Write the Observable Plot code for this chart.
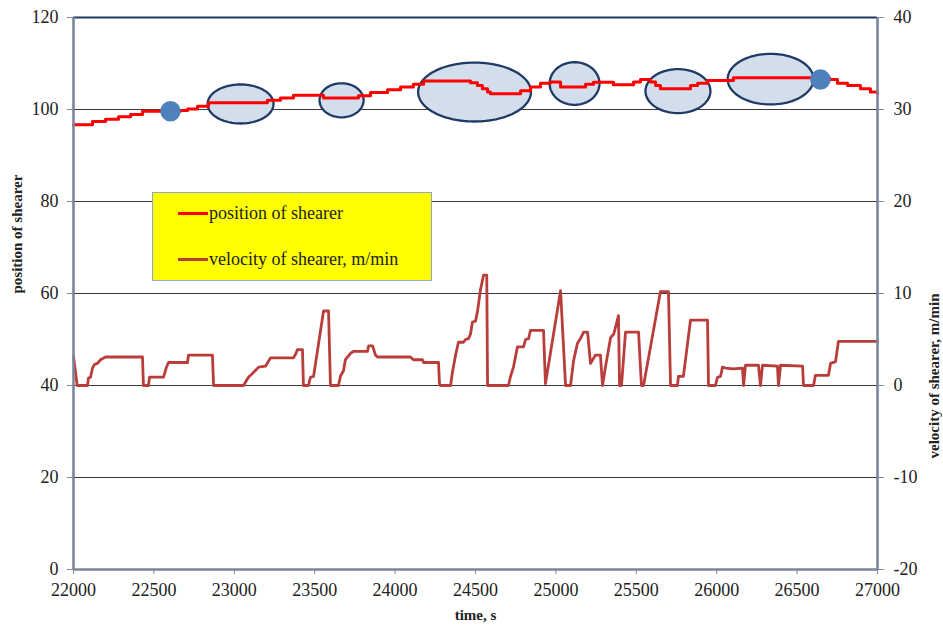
<!DOCTYPE html>
<html>
<head>
<meta charset="utf-8">
<script src="https://cdn.jsdelivr.net/npm/d3@7"></script>
<script src="https://cdn.jsdelivr.net/npm/@observablehq/plot@0.6"></script>
<style>
  body { margin: 0; background: #fff; }
  #wrap { position: relative; width: 943px; height: 628px; }
  #wrap svg text { font-family: "Liberation Serif", "Times New Roman", Tinos, "DejaVu Serif", serif; }
  #legend {
    position: absolute; left: 152px; top: 192px; width: 278px; height: 87px;
    background: #ffff00; border: 1px solid #8ea9d6;
    font-family: "Liberation Serif", "Times New Roman", Tinos, "DejaVu Serif", serif;
    font-size: 18px; color: #222;
  }
  .item { position: absolute; left: 25px; display: flex; align-items: center; }
  .swatch { width: 30px; height: 3px; margin-right: 1px; }
</style>
</head>
<body>
<div id="wrap"></div>
<script>
// time, s
const timeTicks = [22000, 22500, 23000, 23500, 24000, 24500, 25000, 25500, 26000, 26500, 27000];
const leftTicks = [0, 20, 40, 60, 80, 100, 120];
const rightTicks = [-20, -10, 0, 10, 20, 30, 40];

// position of shearer (step start time, value)
const posTime = [22000, 22118, 22199, 22280, 22355, 22429, 22665, 22709, 22771, 22840, 23206, 23287, 23368, 23555, 23772, 23847, 23953, 24034, 24114, 24177, 24469, 24512, 24543, 24575, 24593, 24780, 24842, 24904, 24966, 25029, 25184, 25234, 25358, 25483, 25526, 25588, 25620, 25650, 25837, 25881, 25943, 26104, 26700, 26751, 26814, 26894, 26956, 27000];
const posValue = [96.7, 97.4, 97.9, 98.4, 98.9, 99.6, 99.8, 100.1, 100.7, 101.45, 102.0, 102.5, 103.1, 102.5, 103.0, 103.7, 104.3, 104.9, 105.5, 106.2, 105.8, 105.2, 104.5, 103.8, 103.4, 104.1, 104.9, 105.7, 106.0, 104.9, 105.5, 105.9, 105.4, 106.0, 106.5, 106.0, 105.2, 104.5, 105.2, 105.7, 106.3, 106.9, 106.5, 105.7, 105.2, 104.5, 103.8, 103.4];

// velocity of shearer, m/min
const velTime = [22000, 22023, 22087, 22093, 22106, 22118, 22131, 22149, 22168, 22199, 22429, 22435, 22466, 22473, 22560, 22578, 22591, 22709, 22715, 22864, 22871, 23057, 23088, 23113, 23151, 23194, 23225, 23368, 23381, 23393, 23424, 23430, 23461, 23474, 23493, 23555, 23586, 23598, 23648, 23660, 23679, 23691, 23723, 23741, 23828, 23835, 23860, 23878, 23891, 24096, 24114, 24170, 24177, 24270, 24276, 24282, 24345, 24357, 24376, 24394, 24425, 24438, 24456, 24469, 24481, 24500, 24512, 24531, 24550, 24570, 24575, 24705, 24718, 24736, 24761, 24799, 24811, 24830, 24842, 24923, 24935, 25029, 25060, 25091, 25110, 25134, 25153, 25172, 25197, 25215, 25246, 25277, 25290, 25308, 25340, 25360, 25389, 25396, 25408, 25433, 25514, 25532, 25545, 25650, 25700, 25713, 25756, 25762, 25793, 25837, 25943, 25949, 25992, 26005, 26024, 26036, 26055, 26104, 26160, 26167, 26179, 26260, 26272, 26285, 26378, 26384, 26397, 26534, 26540, 26602, 26614, 26695, 26708, 26739, 26757, 27000];
const velValue = [3.15, 0, 0, 0.8, 0.9, 1.9, 2.3, 2.4, 2.8, 3.1, 3.1, 0, 0, 0.9, 0.9, 2.0, 2.5, 2.5, 3.3, 3.3, 0, 0, 0.9, 1.3, 2.0, 2.1, 3.0, 3.0, 3.4, 3.9, 3.9, 0, 0, 0.9, 1.0, 8.1, 8.1, 0, 0, 1.0, 1.6, 2.8, 3.5, 3.7, 3.7, 4.3, 4.3, 3.3, 3.1, 3.1, 2.8, 2.8, 2.5, 2.5, 0.2, 0, 0, 1.5, 3.3, 4.7, 4.7, 5.0, 5.1, 5.6, 6.9, 7.0, 8.0, 10.4, 12.0, 12.0, 0, 0, 1.0, 2.0, 4.2, 4.2, 5.0, 5.1, 6.0, 6.0, 0.2, 10.3, 0, 0, 2.7, 4.6, 5.1, 5.8, 5.8, 2.4, 3.3, 3.3, 0, 2.0, 5.2, 5.6, 7.6, 0, 0, 5.8, 5.8, 0, 0, 10.2, 10.2, 0, 0, 1.0, 1.0, 7.1, 7.1, 0, 0, 0.9, 1.0, 2.0, 1.9, 1.8, 1.9, 0, 2.2, 2.2, 0, 2.2, 2.1, 0, 2.2, 2.1, 0, 0, 1.1, 1.1, 2.4, 2.6, 4.8, 4.8];

// highlighted regions: centre time, centre position, half-width (s), half-height
const ellTime = [23039, 23667, 24494, 25116, 25759, 26335];
const ellPos = [101.2, 102.0, 103.8, 105.65, 104.0, 106.6];
const ellHalfT = [205, 137, 351, 155, 202, 267];
const ellHalfP = [4.24, 3.7, 6.41, 4.63, 4.78, 5.5];

// marker points
const dotTime = [22603, 26645];
const dotPos = [99.6, 106.5];

// velocity is on the secondary axis: 0 m/min <-> 40, 10 m/min <-> 60
const velToLeft = v => 40 + 2 * v;

const pos = posTime.map((t, i) => ({t, p: posValue[i]}));
const vel = velTime.map((t, i) => ({t, p: velToLeft(velValue[i])}));
const dots = dotTime.map((t, i) => ({t, p: dotPos[i]}));
const ell = [];
ellTime.forEach((t, i) => {
  for (let k = 0; k <= 96; k++) {
    const a = (k / 96) * 2 * Math.PI;
    ell.push({id: i, t: t + ellHalfT[i] * Math.cos(a), p: ellPos[i] + ellHalfP[i] * Math.sin(a)});
  }
});

const axisColor = "#7a869b";
const font = "Liberation Serif, Times New Roman, Tinos, DejaVu Serif, serif";

const chart = Plot.plot({
  width: 943,
  height: 628,
  marginLeft: 73,
  marginRight: 66,
  marginTop: 17,
  marginBottom: 59,
  style: {fontFamily: font, fontSize: "18px", color: "#222", background: "#fff"},
  x: {domain: [22000, 27000]},
  y: {domain: [0, 120]},
  marks: [
    Plot.gridY(leftTicks, {stroke: "#3a3a3a", strokeOpacity: 1, strokeWidth: 1.2}),
    Plot.line(ell, {x: "t", y: "p", z: "id", fill: "#d3deed", stroke: "#203a66", strokeWidth: 2.3}),
    Plot.line(vel, {x: "t", y: "p", stroke: "#b93d3b", strokeWidth: 2.8}),
    Plot.line(pos, {x: "t", y: "p", curve: "step-after", stroke: "#ff0000", strokeWidth: 3}),
    Plot.dot(dots, {x: "t", y: "p", r: 9.5, fill: "#4f81bd", stroke: "#4f81bd"}),
    Plot.ruleY([120], {stroke: "#1f3864", strokeWidth: 2}),
    Plot.ruleY([0], {stroke: axisColor, strokeWidth: 2.6}),
    Plot.ruleX([22000, 27000], {stroke: axisColor, strokeWidth: 2.6}),
    Plot.axisY(leftTicks, {anchor: "left", tickSize: 6, tickPadding: 9, stroke: axisColor, label: null, fontSize: 18}),
    Plot.axisY(leftTicks, {anchor: "right", tickSize: 6, tickPadding: 10, stroke: axisColor, label: null, fontSize: 18,
      tickFormat: d => String(rightTicks[leftTicks.indexOf(d)])}),
    Plot.axisX(timeTicks, {anchor: "bottom", tickSize: 5, tickPadding: 9, stroke: axisColor, label: null, fontSize: 18,
      tickFormat: d => String(d)}),
    Plot.text(["position of shearer"], {frameAnchor: "left", dx: -56, rotate: -90, fontWeight: "bold", fontSize: 15}),
    Plot.text(["velocity of shearer, m/min"], {frameAnchor: "right", dx: 57, rotate: -90, fontWeight: "bold", fontSize: 15}),
    Plot.text(["time, s"], {frameAnchor: "bottom", dy: 50, fontWeight: "bold", fontSize: 15})
  ]
});

const wrap = document.getElementById("wrap");
wrap.appendChild(chart);

const legend = document.createElement("div");
legend.id = "legend";
const items = [
  {label: "position of shearer", color: "#ff0000", top: 10},
  {label: "velocity of shearer, m/min", color: "#b93d3b", top: 56}
];
items.forEach(it => {
  const d = document.createElement("div");
  d.className = "item";
  d.style.top = it.top + "px";
  const s = document.createElement("span");
  s.className = "swatch";
  s.style.background = it.color;
  const l = document.createElement("span");
  l.textContent = it.label;
  d.appendChild(s);
  d.appendChild(l);
  legend.appendChild(d);
});
wrap.appendChild(legend);
</script>
</body>
</html>
